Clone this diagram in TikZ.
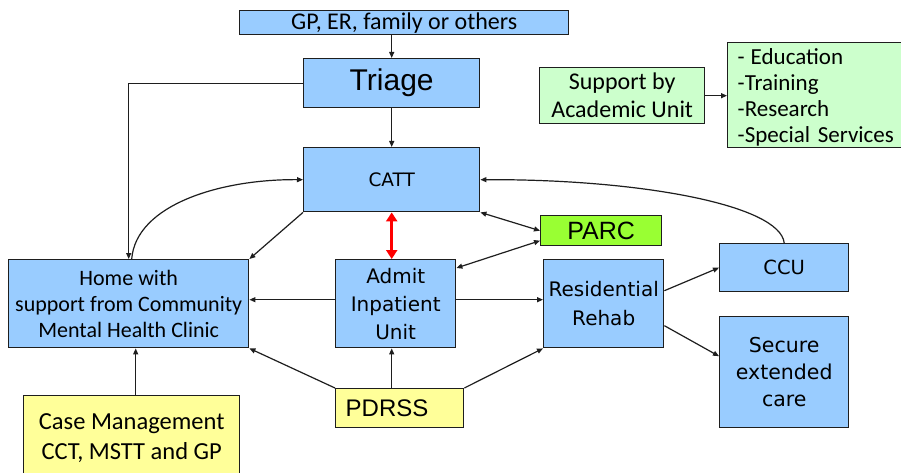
\documentclass[tikz,border=0pt]{standalone}
\usepackage{fontspec}
\setmainfont{Carlito}
\newfontfamily\arialf{Liberation Sans}
\newfontfamily\verdf{DejaVu Sans}
\usetikzlibrary{arrows.meta,calc}
\definecolor{boxblue}{RGB}{153,204,255}
\definecolor{boxyellow}{RGB}{255,255,153}
\definecolor{boxmint}{RGB}{204,255,204}
\definecolor{boxlime}{RGB}{153,255,51}
\definecolor{edge}{RGB}{30,30,30}
\begin{document}
\begin{tikzpicture}[x=1pt,y=-1pt,
  card/.style={draw=edge,line width=1.4pt,inner sep=0pt,anchor=north west,align=center},
  link/.style={draw=edge,line width=1.2pt,-{Triangle[length=6pt,width=5pt]}},
  both/.style={draw=edge,line width=1.2pt,{Triangle[length=6pt,width=5pt]}-{Triangle[length=6pt,width=5pt]}},
  hot/.style={draw=red,line width=2.8pt,{Triangle[length=9pt,width=11pt]}-{Triangle[length=9pt,width=11pt]}}]
\useasboundingbox (0,0) rectangle (901,473);
\fill[white] (0,0) rectangle (901,473);
\clip (0,0) rectangle (901,473);

% boxes
\node[card,fill=boxblue,minimum width=329pt,minimum height=24pt,font=\fontsize{24}{28}\selectfont] (src) at (239,10) {GP, ER, family or others};
\node[card,fill=boxblue,minimum width=176pt,minimum height=49pt,font=\arialf\fontsize{30}{34}\selectfont] (triage) at (303,58) {Triage};
\node[card,fill=boxblue,minimum width=176pt,minimum height=64pt,font=\verdf\fontsize{18.5}{22}\selectfont] (catt) at (303,147) {CATT};
\node[card,fill=boxlime,minimum width=121pt,minimum height=30pt,font=\arialf\fontsize{25}{28}\selectfont] (parc) at (540,215) {PARC};
\node[card,fill=boxblue,minimum width=240pt,minimum height=88pt,font=\fontsize{22}{26}\selectfont] (home) at (8,259) {Home with\\support from Community\\Mental Health Clinic};
\node[card,fill=boxblue,minimum width=120pt,minimum height=88pt,font=\verdf\fontsize{20}{28}\selectfont] (admit) at (335,259) {Admit\\Inpatient\\Unit};
\node[card,fill=boxblue,minimum width=120pt,minimum height=88pt,font=\verdf\fontsize{20}{29}\selectfont] (res) at (543,259) {Residential\\Rehab};
\node[card,fill=boxblue,minimum width=129pt,minimum height=48pt,font=\verdf\fontsize{19.5}{24}\selectfont] (ccu) at (719,243) {CCU};
\node[card,fill=boxblue,minimum width=129pt,minimum height=111pt,font=\verdf\fontsize{20.5}{27}\selectfont] (secure) at (719,316) {Secure\\extended\\care};
\node[card,fill=boxyellow,minimum width=128pt,minimum height=39pt,text width=108pt,align=left,font=\arialf\fontsize{24}{28}\selectfont] (pdrss) at (335,388) {PDRSS};
\node[card,fill=boxyellow,minimum width=216pt,minimum height=85pt,font=\fontsize{24.5}{30}\selectfont] (case) at (23,395) {Case Management\\CCT, MSTT and GP};
\node[card,fill=boxmint,minimum width=165pt,minimum height=56pt,font=\fontsize{24}{28}\selectfont] (support) at (539,67) {Support by\\Academic Unit};
% the list box runs past the right edge of the page
\node[card,fill=boxmint,minimum width=220pt,minimum height=105pt,text width=200pt,align=left,font=\fontsize{23}{26}\selectfont] (edu) at (727,42) {\rule{0pt}{20pt}-\hspace{6pt}Education\\-Training\\-Research\\-Special Services};

% connectors
\draw[link] (triage.north |- src.south) -- (triage.north);
\draw[link] (triage.south) -- (catt.north);
\draw[link] (triage.west) -| (home.north);
\draw[link] ([xshift=3pt]home.north) .. controls (136,205) and (220,179) .. (catt.west);
\draw[link] (catt.south west) -- (home.north east);
\draw[hot] (catt.south) -- (catt.south |- admit.north);
\draw[both] (catt.south east) -- (parc.west);
\draw[both] ([yshift=-10pt]parc.west) -- ([yshift=-9pt]admit.north east);
\draw[link] (ccu.north) .. controls (780,205) and (640,179) .. (catt.east);
\draw[link] ([yshift=4pt]admit.west) -- ([yshift=4pt]admit.west -| home.east);
\draw[link] ([yshift=4pt]admit.east) -- ([yshift=4pt]admit.east -| res.west);
\draw[link] ([yshift=13pt]res.east) -- (ccu.west);
\draw[link] ([yshift=-22pt]res.east) -- ([yshift=16pt]secure.west);
\draw[link] (catt.south |- pdrss.north) -- (catt.south |- admit.south);
\draw[link] (pdrss.north west) -- (home.south east);
\draw[link] (pdrss.north east) -- (res.south west);
\draw[link] ([xshift=4pt]case.north) -- ([xshift=4pt]case.north |- home.south);
\draw[link] (support.east) -- (support.east -| edu.west);
\end{tikzpicture}
\end{document}
